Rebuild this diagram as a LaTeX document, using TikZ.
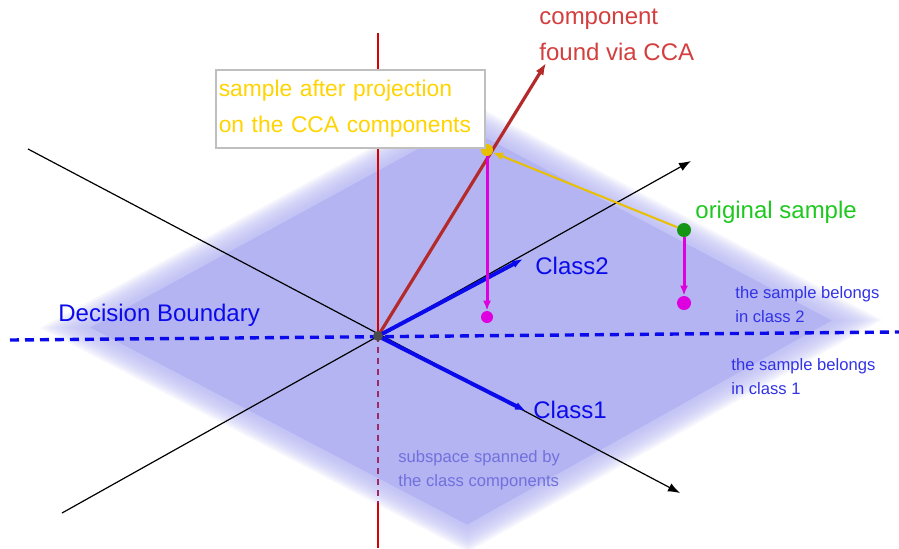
\documentclass[tikz,border=0pt]{standalone}
\usepackage{fontspec}
\setmainfont{Liberation Sans}
\usepackage{tikz}
\usetikzlibrary{arrows.meta, positioning, calc}
\usepackage{xcolor}
\definecolor{planeblue}{RGB}{180,180,242}
\definecolor{ccared}{RGB}{180,42,42}
\definecolor{ccatext}{RGB}{212,62,62}
\definecolor{projyellow}{RGB}{232,192,0}
\definecolor{projtext}{RGB}{255,212,0}
\definecolor{samplegreen}{RGB}{30,200,30}
\definecolor{dotgreen}{RGB}{20,150,20}
\definecolor{dropmag}{RGB}{222,0,222}
\definecolor{classblue}{RGB}{10,10,235}
\definecolor{notetext}{RGB}{50,50,230}
\definecolor{spantext}{RGB}{112,112,222}
\definecolor{hiddenaxis}{RGB}{160,40,100}

\begin{document}
\begin{tikzpicture}[
    x=0.5pt, y=-0.5pt,
    axis/.style={black, line width=0.6pt},
    axisarr/.style={axis, -{Latex[length=6pt, width=4.5pt]}},
    classarr/.style={classblue, line width=2pt, -{Latex[length=5.5pt, width=4pt]}},
    droparr/.style={dropmag, line width=1.5pt, -{Latex[length=5pt, width=4pt]}},
    lbl/.style={anchor=west, inner sep=0pt, align=left,
                font=\fontsize{12}{18}\selectfont},
    note/.style={anchor=west, inner sep=0pt, align=left,
                 font=\fontsize{8.3}{12}\selectfont},
    pt/.style={circle, inner sep=0pt, minimum size=#1},
]
\useasboundingbox (0,0) rectangle (899,548);

\coordinate (C) at (461,324);
\coordinate (L) at (40,328);
\coordinate (T) at (462,98);
\coordinate (R) at (882,320);
\coordinate (B) at (468,552);
\foreach \i in {0,...,14}
    \fill[planeblue, opacity=0.1] ($(C)!1-\i*0.008!(L)$) -- ($(C)!1-\i*0.008!(T)$)
        -- ($(C)!1-\i*0.008!(R)$) -- ($(C)!1-\i*0.008!(B)$) -- cycle;
\fill[planeblue] ($(C)!0.88!(L)$) -- ($(C)!0.88!(T)$)
    -- ($(C)!0.88!(R)$) -- ($(C)!0.88!(B)$) -- cycle;

\coordinate (O) at (378,336);
\coordinate (zt) at (378,33);
\coordinate (zh) at (378,503);
\coordinate (zb) at (378,548);
\coordinate (a1s) at (28,149);
\coordinate (a1e) at (680,493);
\coordinate (a2s) at (62,513);
\coordinate (a2e) at (691,161);
\coordinate (dbl) at (10,340);
\coordinate (dbr) at (899,332);
\coordinate (cca) at (546,63);
\coordinate (c2) at (523,259);
\coordinate (c1) at (526,411);

\draw[red!85!black, line width=0.7pt] (zt) -- (O);
\draw[hiddenaxis, line width=0.7pt, dash pattern=on 3pt off 2.5pt] (O) -- (zh);
\draw[red!85!black, line width=0.7pt] (zh) -- (zb);
\draw[axisarr] (a1s) -- (a1e);
\draw[axisarr] (a2s) -- (a2e);
\draw[classblue, line width=1.7pt, dash pattern=on 4.5pt off 3pt] (dbl) -- (dbr);
\draw[ccared, line width=1.6pt, -{Latex[length=6pt, width=4.5pt]}] (O) -- (cca);
\draw[classarr] (O) -- (c2);
\draw[classarr] (O) -- (c1);

\node[pt=6pt, fill=projyellow] (proj) at (487,150) {};
\node[pt=7pt, fill=dotgreen] (orig) at (684,230) {};
\node[pt=6pt, fill=dropmag] (projd) at (487,317) {};
\node[pt=7pt, fill=dropmag] (origd) at (684,303) {};
\node[pt=5pt, fill=black!70] (ctr) at (O) {};

\draw[projyellow, line width=1pt, -{Latex[length=5pt, width=4pt]}] (orig) -- (proj);
\draw[droparr] (proj) -- (projd);
\draw[droparr] (orig) -- (origd);

\node[lbl, text=ccatext] (ccalbl) at (539,35) {component\\found via CCA};
\node[draw=black!25, line width=0.8pt, fill=white, anchor=north west,
      text width=131.5pt, inner xsep=1.5pt, minimum height=39pt, align=left,
      text=projtext, font=\fontsize{11.4}{18}\selectfont]
    (projlbl) at (215,69) {sample after projection\\on the CCA components};
\node[lbl, text=samplegreen] (origlbl) at (695,212) {original sample};
\node[lbl, text=classblue] (c2lbl) at (535,266) {Class2};
\node[lbl, text=classblue] (c1lbl) at (533,410) {Class1};
\node[lbl, text=classblue] (dblbl) at (58,315) {Decision Boundary};
\node[note, text=notetext] (in2) at (735,305) {the sample belongs\\in class 2};
\node[note, text=notetext] (in1) at (731,377) {the sample belongs\\in class 1};
\node[note, text=spantext] (span) at (398,470) {subspace spanned by\\the class components};

\end{tikzpicture}
\end{document}
